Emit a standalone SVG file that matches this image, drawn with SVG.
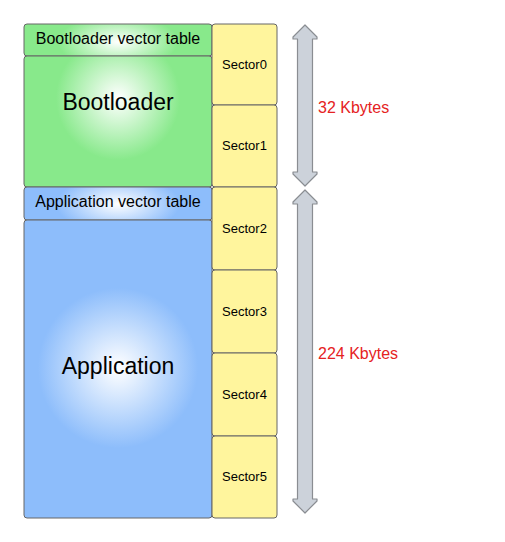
<svg xmlns="http://www.w3.org/2000/svg" width="505" height="542" viewBox="0 0 505 542">
<style>
  text { font-family: "Liberation Sans", Arial, sans-serif; fill: #000; text-anchor: middle; }
  .blk { stroke: #666; stroke-width: 1; }
  .sec { fill: #fff59d; stroke: #666; stroke-width: 1; }
  .arr { fill: #ccd2da; stroke: #8a8d92; stroke-width: 1.2; stroke-linejoin: round; }
  .big { font-size: 23px; }
  .mid { font-size: 16px; }
  .sm { font-size: 13px; }
  .lbl { font-size: 16px; fill: #e52222; text-anchor: start; }
</style>
<defs>
  <radialGradient id="gBootVT" gradientUnits="userSpaceOnUse" cx="118" cy="42" r="60" gradientTransform="translate(0,42) scale(1,0.45) translate(0,-42)">
    <stop offset="0" stop-color="#ffffff"/>
    <stop offset="1" stop-color="#88e98b"/>
  </radialGradient>
  <radialGradient id="gBoot" gradientUnits="userSpaceOnUse" cx="118" cy="98" r="62">
    <stop offset="0" stop-color="#ffffff"/>
    <stop offset="1" stop-color="#88e98b"/>
  </radialGradient>
  <radialGradient id="gAppVT" gradientUnits="userSpaceOnUse" cx="118" cy="204" r="62" gradientTransform="translate(0,204) scale(1,0.45) translate(0,-204)">
    <stop offset="0" stop-color="#ffffff"/>
    <stop offset="1" stop-color="#8dbdfb"/>
  </radialGradient>
  <radialGradient id="gApp" gradientUnits="userSpaceOnUse" cx="118" cy="368" r="80">
    <stop offset="0" stop-color="#ffffff"/>
    <stop offset="1" stop-color="#8dbdfb"/>
  </radialGradient>
</defs>
<g id="bootloader-vector-table">
  <rect class="blk" x="24" y="24" width="188" height="32" rx="3" fill="url(#gBootVT)"/>
  <text class="mid" x="118" y="44">Bootloader vector table</text>
</g>
<g id="bootloader">
  <rect class="blk" x="24" y="56" width="188" height="131" rx="3" fill="url(#gBoot)"/>
  <text class="big" x="118" y="110">Bootloader</text>
</g>
<g id="application-vector-table">
  <rect class="blk" x="24" y="187" width="188" height="33" rx="3" fill="url(#gAppVT)"/>
  <text class="mid" x="118" y="207">Application vector table</text>
</g>
<g id="application">
  <rect class="blk" x="24" y="220" width="188" height="298" rx="3" fill="url(#gApp)"/>
  <text class="big" x="118" y="374">Application</text>
</g>
<g id="sector0"><rect class="sec" x="212" y="24" width="65" height="81" rx="3"/><text class="sm" x="244.5" y="69">Sector0</text></g>
<g id="sector1"><rect class="sec" x="212" y="105" width="65" height="82" rx="3"/><text class="sm" x="244.5" y="150">Sector1</text></g>
<g id="sector2"><rect class="sec" x="212" y="187" width="65" height="83" rx="3"/><text class="sm" x="244.5" y="233">Sector2</text></g>
<g id="sector3"><rect class="sec" x="212" y="270" width="65" height="83" rx="3"/><text class="sm" x="244.5" y="316">Sector3</text></g>
<g id="sector4"><rect class="sec" x="212" y="353" width="65" height="83" rx="3"/><text class="sm" x="244.5" y="399">Sector4</text></g>
<g id="sector5"><rect class="sec" x="212" y="436" width="65" height="82" rx="3"/><text class="sm" x="244.5" y="481">Sector5</text></g>
<g id="connectors">
  <path class="arr" d="M305,25 L317,37 L317,39 L312.5,39 L312.5,172 L317,172 L317,174 L305,186 L293,174 L293,172 L297.5,172 L297.5,39 L293,39 L293,37 Z"/>
  <path class="arr" d="M305,190 L317,202 L317,204 L312.5,204 L312.5,499 L317,499 L317,501 L305,513 L293,501 L293,499 L297.5,499 L297.5,204 L293,204 L293,202 Z"/>
</g>
<g id="labels">
  <text class="lbl" x="318" y="113">32 Kbytes</text>
  <text class="lbl" x="318" y="359">224 Kbytes</text>
</g>
</svg>
